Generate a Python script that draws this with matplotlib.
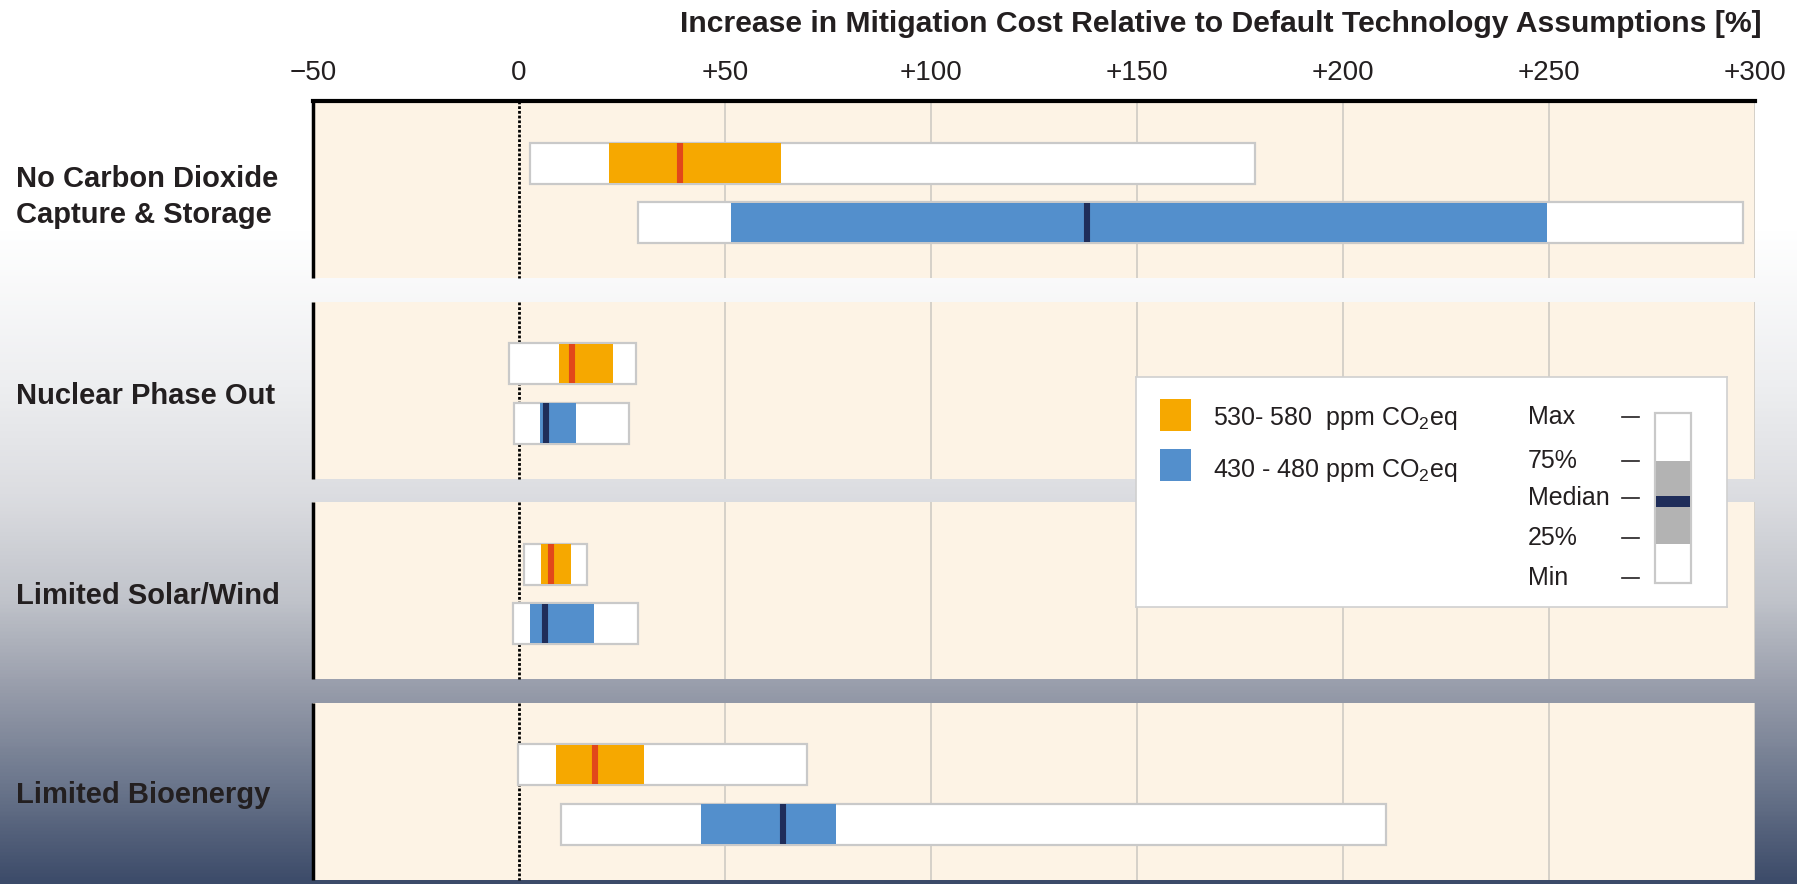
import matplotlib
matplotlib.use("Agg")
import matplotlib.pyplot as plt
import matplotlib.transforms as mtrans
import numpy as np
from matplotlib.colors import LinearSegmentedColormap
from matplotlib.patches import Rectangle

plt.rcParams['font.family'] = ['Liberation Sans', 'DejaVu Sans']
plt.rcParams['mathtext.default'] = 'regular'
plt.rcParams['text.color'] = '#231f20'

categories = ["No Carbon Dioxide\nCapture & Storage", "Nuclear Phase Out",
              "Limited Solar/Wind", "Limited Bioenergy"]

# 530-580 ppm CO2eq (orange): min, 25%, median, 75%, max
low_min = [2.7, -2.4, 1.3, -0.2]
low_q25 = [21.8, 9.7, 5.3, 9.1]
low_med = [39.1, 12.9, 7.8, 18.4]
low_q75 = [63.6, 22.9, 12.5, 30.4]
low_max = [178.6, 28.5, 16.5, 69.8]

# 430-480 ppm CO2eq (blue)
high_min = [28.9, -1.3, -1.5, 10.2]
high_q25 = [51.5, 5.1, 2.7, 44.2]
high_med = [137.9, 6.6, 6.2, 64.0]
high_q75 = [249.5, 13.8, 18.2, 77.0]
high_max = [297.1, 26.8, 28.9, 210.4]

xticks = [-50, 0, 50, 100, 150, 200, 250, 300]
xticklabels = ["\u221250", "0", "+50", "+100", "+150", "+200", "+250", "+300"]

ORANGE = '#f6a800'
ORANGE_MED = '#e2471a'
BLUE = '#538fcc'
BLUE_MED = '#1f2d5a'
CREAM = '#fdf3e5'
GRID = '#d2cec7'
EDGE = '#c9c9c9'

W, H = 1797, 884
fig = plt.figure(figsize=(W / 100, H / 100), dpi=100)

# background gradient (white -> slate blue)
bg = fig.add_axes([0, 0, 1, 1], zorder=0)
cmap = LinearSegmentedColormap.from_list('bg', [
    (0.0, '#ffffff'), (0.26, '#ffffff'), (0.43, '#eeeff1'), (0.56, '#dcdde1'),
    (0.68, '#c0c3ca'), (0.78, '#989dab'), (0.89, '#6b768c'), (1.0, '#3c4b69')])
bg.imshow(np.linspace(0, 1, 500).reshape(-1, 1), cmap=cmap, aspect='auto',
          extent=[0, 1, 0, 1], origin='upper')
bg.axis('off')

ax = fig.add_axes([313 / W, 0, (1755 - 313) / W, 1 - 101 / H], zorder=1)
ax.patch.set_visible(False)
ybot = 783 / 200.5
ax.set_xlim(-50, 300)
ax.set_ylim(ybot, 0)

panel_h = 0.885
bar_h = 0.205
off_low, off_high = 0.31, 0.607

for k in range(len(categories)):
    top = k
    bottom = min(k + panel_h, ybot)
    ax.add_patch(Rectangle((-50, top), 350, bottom - top, facecolor=CREAM,
                           edgecolor='none', zorder=0))
    ax.vlines(xticks[2:], top, bottom, color=GRID, lw=1.3, zorder=1)
    ax.vlines(0, top, bottom, color='black', lw=2.0, linestyles=(0, (1, 0.7)), zorder=1)
    ax.vlines(-50, top, bottom, color='black', lw=2.5, zorder=2, clip_on=False)

    for yo, mn, q1, md, q3, mx, col, mcol in [
            (off_low, low_min[k], low_q25[k], low_med[k], low_q75[k], low_max[k], ORANGE, ORANGE_MED),
            (off_high, high_min[k], high_q25[k], high_med[k], high_q75[k], high_max[k], BLUE, BLUE_MED)]:
        yc = k + yo
        ax.add_patch(Rectangle((mn, yc - bar_h / 2), mx - mn, bar_h, facecolor='white',
                               edgecolor=EDGE, lw=1.6, zorder=3))
        ax.add_patch(Rectangle((q1, yc - bar_h / 2 + 0.004), q3 - q1, bar_h - 0.008,
                               facecolor=col, edgecolor='none', zorder=4))
        ax.plot([md, md], [yc - bar_h / 2 + 0.004, yc + bar_h / 2 - 0.004], color=mcol,
                lw=4.4, solid_capstyle='butt', zorder=5)

for s in ['left', 'right', 'bottom']:
    ax.spines[s].set_visible(False)
ax.spines['top'].set_linewidth(3)
ax.xaxis.tick_top()
ax.set_xticks(xticks, xticklabels)
ax.tick_params(axis='x', length=0, pad=10.5, labelsize=20, labelcolor='#231f20')
ax.set_yticks([])

# category labels
tr = mtrans.blended_transform_factory(fig.transFigure, ax.transData)
label_y = [0.48, 1.47, 2.47, (3 + ybot) / 2 + 0.01]
for lab, yy in zip(categories, label_y):
    ax.text(16 / W, yy, lab, transform=tr, ha='left', va='center', fontsize=21,
            fontweight='bold', linespacing=1.37)

fig.text(1762 / W, 1 - 24 / H,
         "Increase in Mitigation Cost Relative to Default Technology Assumptions [%]",
         ha='right', va='center', fontsize=21.7, fontweight='bold')

# legend box
lax = fig.add_axes([1136 / W, 1 - 607 / H, (1727 - 1136) / W, (607 - 377) / H], zorder=6)
lax.set_xlim(0, 591)
lax.set_ylim(230, 0)
lax.set_xticks([])
lax.set_yticks([])
lax.set_facecolor('white')
for s in lax.spines.values():
    s.set_color('#d0d0d0')
    s.set_linewidth(1.2)

lax.add_patch(Rectangle((24, 22), 31, 32, facecolor=ORANGE, edgecolor='none'))
lax.add_patch(Rectangle((24, 72), 31, 32, facecolor=BLUE, edgecolor='none'))
lax.text(77, 41, "530- 580  ppm CO$_2$eq", va='center', ha='left', fontsize=18)
lax.text(77, 93, "430 - 480 ppm CO$_2$eq", va='center', ha='left', fontsize=18)

key_labels = ["Max", "75%", "Median", "25%", "Min"]
key_y = [40, 84, 121, 161, 201]
for lab, yy in zip(key_labels, key_y):
    lax.text(392, yy, lab, va='center', ha='left', fontsize=18)
    lax.plot([486, 503], [yy, yy], color='#231f20', lw=1.2)

lax.add_patch(Rectangle((519, 36), 36, 170, facecolor='white', edgecolor=EDGE, lw=1.6))
lax.add_patch(Rectangle((520, 84), 34, 83, facecolor='#b3b3b3', edgecolor='none'))
lax.add_patch(Rectangle((520, 119), 34, 11, facecolor=BLUE_MED, edgecolor='none'))

fig.savefig("out.png", dpi=100)
